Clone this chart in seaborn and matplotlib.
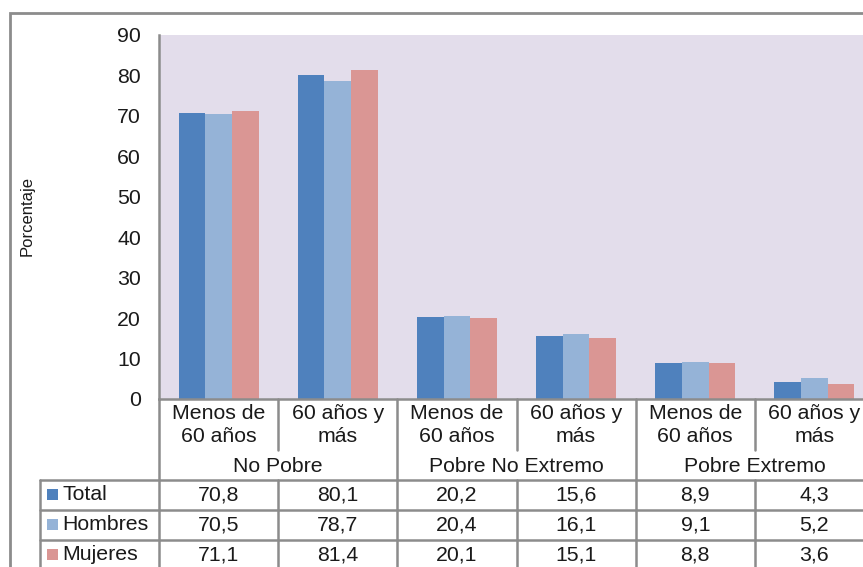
import matplotlib
matplotlib.use("Agg")
import matplotlib.pyplot as plt
import matplotlib.transforms as mtransforms
from matplotlib.lines import Line2D
from matplotlib.patches import Rectangle
import pandas as pd
import seaborn as sns

# Data
age_groups = ["Menos de\n60 años", "60 años y\nmás"] * 3
poverty_groups = ["No Pobre", "Pobre No Extremo", "Pobre Extremo"]
series = ["Total", "Hombres", "Mujeres"]
total = [70.8, 80.1, 20.2, 15.6, 8.9, 4.3]
hombres = [70.5, 78.7, 20.4, 16.1, 9.1, 5.2]
mujeres = [71.1, 81.4, 20.1, 15.1, 8.8, 3.6]
y_ticks = [0, 10, 20, 30, 40, 50, 60, 70, 80, 90]

colors = ["#4F81BD", "#95B3D7", "#DA9694"]
values = {"Total": total, "Hombres": hombres, "Mujeres": mujeres}

rows = []
for s in series:
    for i, v in enumerate(values[s]):
        rows.append({"cat": i, "serie": s, "valor": v})
df = pd.DataFrame(rows)

sns.set_theme(style="white")
plt.rcParams["font.family"] = ["Liberation Sans", "DejaVu Sans"]

W, H = 863, 567
fig = plt.figure(figsize=(W / 100, H / 100), dpi=100)
fig.patch.set_facecolor("white")

line_col = "#8C8C8C"
fs = 15.3

def fy(py):
    return 1 - py / H

# Plot area
ax = fig.add_axes([159 / W, fy(399), (874 - 159) / W, (399 - 35) / H])
ax.set_facecolor("#E3DDEB")
sns.barplot(data=df, x="cat", y="valor", hue="serie", hue_order=series,
            palette=colors, saturation=1, width=0.67, dodge=True,
            linewidth=0, legend=False, ax=ax, native_scale=True)
ax.set_xlim(-0.5, 5.5)
ax.set_ylim(0, 90)
ax.set_yticks(y_ticks)
ax.set_yticklabels([str(t) for t in y_ticks], fontsize=fs, color="#1A1A1A")
ax.tick_params(axis="y", length=0, pad=13)
ax.set_xticks([])
ax.set_xlabel("")
ax.set_ylabel("")
for side in ["top", "right"]:
    ax.spines[side].set_visible(False)
ax.spines["left"].set_color(line_col)
ax.spines["left"].set_linewidth(1.8)
ax.spines["bottom"].set_color(line_col)
ax.spines["bottom"].set_linewidth(1.8)

fig.text(27 / W, fy(216), "Porcentaje", rotation=90, ha="center", va="center",
         fontsize=12, color="#1A1A1A")

# Data table under the axis
tr = mtransforms.blended_transform_factory(ax.transData, fig.transFigure)

def hline(x0, x1, py):
    fig.add_artist(Line2D([x0, x1], [fy(py), fy(py)], transform=tr,
                          color=line_col, lw=1.8, clip_on=False))

def vline(x, py0, py1):
    fig.add_artist(Line2D([x, x], [fy(py0), fy(py1)], transform=tr,
                          color=line_col, lw=1.8, clip_on=False))

row_tops = [480, 510, 540]
for py in row_tops:
    hline(-1.5, 6.5, py)
vline(-1.5, 480, 580)
vline(-0.5, 399, 580)
for xb in [1.5, 3.5]:
    vline(xb, 399, 580)
for xb in [0.5, 2.5, 4.5]:
    vline(xb, 399, 450)
    vline(xb, 480, 580)

for i, lab in enumerate(age_groups):
    fig.text(i, fy(425), lab, transform=tr, ha="center", va="center",
             fontsize=fs, color="#1A1A1A", linespacing=1.22)
for g, lab in enumerate(poverty_groups):
    fig.text(2 * g + 0.5, fy(466), lab, transform=tr, ha="center",
             va="center", fontsize=fs, color="#1A1A1A")

for r, s in enumerate(series):
    yc = row_tops[r] + 15
    fig.add_artist(Rectangle((47 / W, fy(yc + 5)), 11 / W, 11 / H,
                             transform=fig.transFigure, facecolor=colors[r],
                             edgecolor="none"))
    fig.text(62 / W, fy(yc), s, ha="left", va="center", fontsize=fs,
             color="#1A1A1A")
    for i, v in enumerate(values[s]):
        fig.text(i, fy(yc), f"{v:.1f}".replace(".", ","), transform=tr,
                 ha="center", va="center", fontsize=fs, color="#1A1A1A")

# Chart border
fig.add_artist(Rectangle((10 / W, fy(600)), 900 / W, (600 - 13) / H,
                         transform=fig.transFigure, facecolor="none",
                         edgecolor="#8C8C8C", lw=2, clip_on=False))

fig.savefig("out.png", dpi=100)
